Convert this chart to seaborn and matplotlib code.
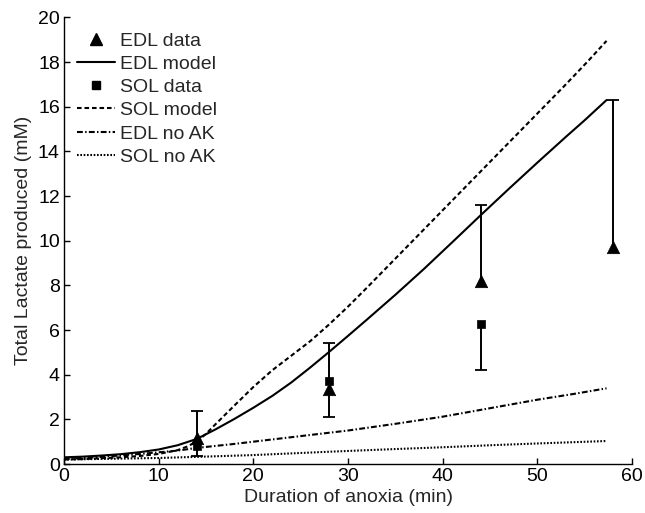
import numpy as np
import matplotlib
matplotlib.use("Agg")
import matplotlib.pyplot as plt
from matplotlib.lines import Line2D
import seaborn as sns

# ---- data ----
data_time = [14, 28, 44, 58]
edl_data = [1.16, 3.36, 8.18, 9.72]
edl_err_up = [1.21, 2.07, 3.44, 6.60]

sol_time = [14, 28, 44]
sol_data = [0.82, 3.71, 6.26]
sol_err_down = [0.46, 1.62, 2.06]

edl_model_t = [0, 2, 4, 6, 8, 10, 12, 14, 16, 18, 20, 22, 24, 26, 28, 30, 32, 35, 38,
               41, 44, 47, 50, 53, 55, 57.3]
edl_model_y = [0.30, 0.33, 0.38, 0.44, 0.53, 0.65, 0.84, 1.12, 1.55, 2.02, 2.52, 3.05,
               3.65, 4.32, 5.02, 5.74, 6.47, 7.58, 8.73, 9.93, 11.14, 12.33, 13.50,
               14.65, 15.40, 16.30]

sol_model_t = [0, 2, 4, 6, 8, 10, 12, 13, 14, 15, 16, 17, 18, 20, 22, 24, 26, 28, 30,
               32, 35, 38, 41, 44, 47, 50, 53, 55.4, 57.3]
sol_model_y = [0.20, 0.22, 0.26, 0.30, 0.36, 0.45, 0.62, 0.78, 1.00, 1.35, 1.78, 2.20,
               2.62, 3.45, 4.20, 4.85, 5.50, 6.25, 7.05, 7.90, 9.20, 10.50, 11.80,
               13.10, 14.40, 15.70, 17.00, 18.07, 18.95]

edl_noak_t = [0, 4, 8, 12, 14, 18, 22, 26, 30, 35, 40, 45, 50, 54, 57.3]
edl_noak_y = [0.22, 0.32, 0.45, 0.60, 0.72, 0.90, 1.10, 1.30, 1.50, 1.80, 2.12, 2.50,
              2.88, 3.15, 3.39]

sol_noak_t = [0, 10, 14, 20, 28, 35, 40, 45, 50, 57.3]
sol_noak_y = [0.20, 0.27, 0.32, 0.40, 0.55, 0.67, 0.75, 0.84, 0.92, 1.03]

x_ticks = [0, 10, 20, 30, 40, 50, 60]
y_ticks = [0, 2, 4, 6, 8, 10, 12, 14, 16, 18, 20]

legend_order = ['EDL data', 'EDL model', 'SOL data', 'SOL model', 'EDL no AK', 'SOL no AK']

# ---- style ----
sns.set_style("ticks")
plt.rcParams['font.family'] = ['Liberation Sans', 'DejaVu Sans']

fig = plt.figure(figsize=(6.45, 5.13), dpi=100)
ax = fig.add_axes([0.0992, 0.0955, 0.8808, 0.8705])

lw = 1.5
curves = [
    ('EDL model', edl_model_t, edl_model_y, '-'),
    ('SOL model', sol_model_t, sol_model_y, (0, (2.2, 1.4))),
    ('EDL no AK', edl_noak_t, edl_noak_y, (0, (2.8, 1.1, 0.7, 1.1))),
    ('SOL no AK', sol_noak_t, sol_noak_y, (0, (0.8, 0.8))),
]
lines = {}
for name, t, y, ls in curves:
    sns.lineplot(x=t, y=y, ax=ax, color='k', linewidth=lw, linestyle=ls, sort=False)
    ax.lines[-1].set_label(name)
    lines[name] = ax.lines[-1]

# one-sided error bars
eb1 = ax.errorbar(data_time, edl_data, yerr=[np.zeros(len(edl_data)), edl_err_up],
                  fmt='none', ecolor='k', elinewidth=1.4, capsize=4.5, capthick=1.3, zorder=3)
eb1[1][0].set_visible(False)
eb2 = ax.errorbar(sol_time, sol_data, yerr=[sol_err_down, np.zeros(len(sol_data))],
                  fmt='none', ecolor='k', elinewidth=1.4, capsize=4.5, capthick=1.3, zorder=3)
eb2[1][1].set_visible(False)

sns.scatterplot(x=data_time, y=edl_data, ax=ax, marker='^', s=80, color='k',
                edgecolor='k', linewidth=0.5, zorder=4, legend=False)
sns.scatterplot(x=sol_time, y=sol_data, ax=ax, marker='s', s=34, color='k',
                edgecolor='k', linewidth=0.5, zorder=4, legend=False)

handles = [
    Line2D([], [], marker='^', color='k', linestyle='none', markersize=8),
    lines['EDL model'],
    Line2D([], [], marker='s', color='k', linestyle='none', markersize=5.5),
    lines['SOL model'],
    lines['EDL no AK'],
    lines['SOL no AK'],
]
ax.legend(handles, legend_order, loc='upper left', frameon=False, fontsize=14,
          handlelength=1.95, handletextpad=0.25, labelspacing=0.29,
          borderaxespad=0.0, bbox_to_anchor=(0.009, 0.985))

ax.set_xlim(0, 60)
ax.set_ylim(0, 20)
ax.set_xticks(x_ticks)
ax.set_yticks(y_ticks)
ax.tick_params(direction='in', length=4, width=1, labelsize=14, colors='k', pad=3)
ax.set_xlabel('Duration of anoxia (min)', fontsize=14, labelpad=3)
ax.set_ylabel('Total Lactate produced (mM)', fontsize=14, labelpad=4)
for s in ['top', 'right']:
    ax.spines[s].set_visible(False)
for s in ['left', 'bottom']:
    ax.spines[s].set_linewidth(1.0)
    ax.spines[s].set_color('k')

fig.savefig('out.png', dpi=100)
